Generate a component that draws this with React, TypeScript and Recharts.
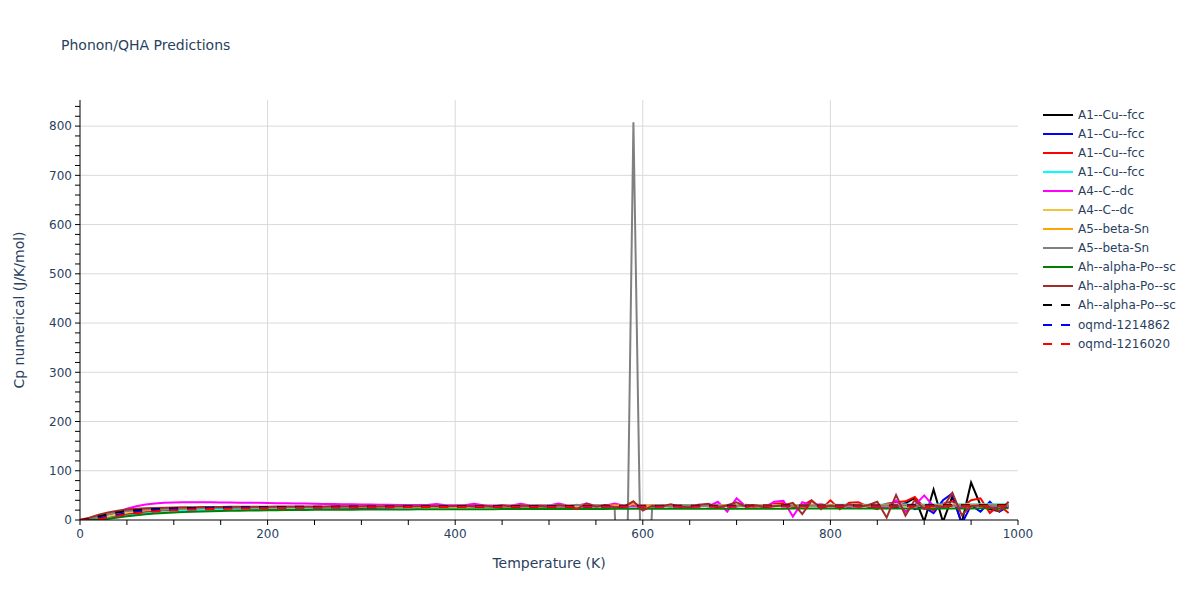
import React from 'react';
import { LineChart, Line, XAxis, YAxis, ReferenceLine } from 'recharts';

// temperatures (K)
const TEMPS = [
  0, 10, 20, 30, 40, 50, 60, 70, 80, 90,
  100, 110, 120, 130, 140, 150, 160, 170, 180, 190,
  200, 210, 220, 230, 240, 250, 260, 270, 280, 290,
  300, 310, 320, 330, 340, 350, 360, 370, 380, 390,
  400, 410, 420, 430, 440, 450, 460, 470, 480, 490,
  500, 510, 520, 530, 540, 550, 560, 570, 580, 590,
  600, 610, 620, 630, 640, 650, 660, 670, 680, 690,
  700, 710, 720, 730, 740, 750, 760, 770, 780, 790,
  800, 810, 820, 830, 840, 850, 860, 870, 880, 890,
  900, 910, 920, 930, 940, 950, 960, 970, 980, 990,
];

const CU_FCC_1 = [
  0, 0.2, 1.5, 4.3, 7.8, 10.9, 13.4, 15.3, 16.8, 18.0,
  19.0, 19.8, 20.5, 21.1, 21.6, 22.0, 22.4, 22.7, 23.0, 23.2,
  23.4, 23.6, 23.8, 24.0, 24.2, 24.4, 24.6, 24.8, 25.0, 25.2,
  25.4, 25.6, 25.8, 26.0, 26.2, 26.3, 26.4, 26.5, 26.6, 26.7,
  26.8, 26.9, 27.0, 27.1, 27.2, 27.3, 27.4, 27.5, 27.5, 27.6,
  27.6, 27.7, 27.8, 27.9, 28.0, 28.1, 28.1, 28.2, 28.3, 28.3,
  28.4, 28.5, 28.6, 28.6, 28.8, 29.0, 28.5, 29.2, 28.9, 29.4,
  29.0, 29.6, 28.8, 30.1, 29.3, 28.7, 30.4, 29.1, 30.8, 28.9,
  30.2, 29.4, 31.0, 28.5, 30.6, 27.8, 32.5, 26.4, 34.0, 45.0,
  -3.0, 62.0, -4.0, 48.0, -6.0, 76.0, 30.0, 22.0, 18.0, 31.0,
];

const CU_FCC_2 = [
  0, 0.2, 1.4, 4.1, 7.5, 10.6, 13.1, 15.0, 16.5, 17.7,
  18.7, 19.5, 20.2, 20.8, 21.3, 21.7, 22.1, 22.4, 22.7, 22.9,
  23.1, 23.3, 23.5, 23.7, 23.9, 24.1, 24.3, 24.5, 24.7, 24.9,
  25.1, 25.3, 25.5, 25.7, 25.9, 26.0, 26.1, 26.2, 26.3, 26.4,
  26.5, 26.6, 26.7, 26.8, 26.9, 27.0, 27.1, 27.2, 27.2, 27.3,
  27.3, 27.4, 27.5, 27.6, 27.7, 27.8, 27.8, 27.9, 28.0, 28.0,
  28.1, 28.2, 28.3, 28.3, 28.4, 28.6, 28.2, 28.8, 28.5, 29.0,
  28.7, 29.2, 28.5, 29.6, 28.9, 28.4, 30.0, 28.8, 30.3, 28.6,
  29.8, 29.1, 30.4, 28.2, 30.0, 27.0, 30.0, 25.0, 33.0, 22.0,
  26.0, 14.0, 40.0, 54.0, -8.0, 30.0, 17.0, 37.0, 17.0, 28.0,
];

const CU_FCC_3 = [
  0, 0.3, 1.7, 4.6, 8.1, 11.2, 13.7, 15.6, 17.1, 18.3,
  19.2, 20.0, 20.7, 21.3, 21.8, 22.2, 22.6, 22.9, 23.2, 23.4,
  23.6, 23.8, 24.0, 24.2, 24.4, 24.6, 24.8, 25.0, 25.2, 25.4,
  25.6, 25.8, 26.0, 26.2, 26.4, 26.5, 26.6, 26.7, 26.8, 26.9,
  27.0, 27.1, 27.2, 27.3, 27.4, 27.5, 27.6, 27.7, 27.7, 27.8,
  27.8, 27.9, 28.0, 28.1, 28.2, 28.3, 28.3, 28.4, 28.5, 28.5,
  28.5, 28.6, 28.7, 28.7, 28.8, 28.9, 28.9, 29.0, 28.0, 30.5,
  27.5, 31.0, 27.0, 29.0, 33.0, 34.0, 26.0, 29.0, 40.0, 22.0,
  40.0, 22.0, 35.0, 36.0, 27.0, 22.0, 33.0, 36.0, 38.0, 47.0,
  25.0, 20.0, 33.0, 38.0, 26.0, 40.0, 44.0, 14.0, 30.0, 14.0,
];

const CU_FCC_4 = [
  0, 0.1, 0.9, 2.9, 5.6, 8.4, 10.9, 13.0, 14.8, 16.3,
  17.5, 18.6, 19.5, 20.3, 21.0, 21.6, 22.1, 22.6, 23.0, 23.4,
  23.7, 24.0, 24.3, 24.6, 24.9, 25.1, 25.4, 25.6, 25.8, 26.0,
  26.2, 26.4, 26.6, 26.8, 27.0, 27.1, 27.3, 27.4, 27.6, 27.7,
  27.8, 27.9, 28.0, 28.1, 28.2, 28.3, 28.4, 28.5, 28.6, 28.7,
  28.8, 28.9, 29.0, 29.0, 29.1, 29.2, 29.3, 29.3, 29.4, 29.5,
  29.5, 29.6, 29.7, 29.7, 29.8, 29.9, 29.9, 30.0, 30.1, 30.1,
  30.2, 30.3, 30.3, 30.4, 30.5, 30.5, 30.6, 30.7, 30.7, 30.8,
  30.9, 30.9, 31.0, 31.1, 31.1, 31.2, 31.3, 31.3, 31.4, 31.5,
  31.5, 31.6, 31.7, 31.7, 31.8, 31.9, 31.9, 32.0, 32.1, 32.1,
];

const C_DC_1 = [
  0, 0.5, 3.5, 9.5, 16.5, 23.0, 28.0, 31.5, 33.5, 34.8,
  35.5, 35.8, 35.9, 35.9, 35.8, 35.6, 35.4, 35.2, 35.0, 34.8,
  34.5, 34.2, 33.9, 33.6, 33.3, 33.0, 32.7, 32.4, 32.1, 31.8,
  31.5, 31.3, 31.1, 30.9, 30.7, 30.5, 30.4, 30.3, 32.5, 30.1,
  30.0, 29.9, 33.0, 29.8, 29.7, 29.7, 29.6, 32.8, 29.5, 29.5,
  29.4, 33.5, 29.3, 29.3, 33.0, 29.2, 29.1, 33.5, 29.0, 29.0,
  28.9, 29.5, 28.0, 30.5, 28.5, 29.0, 31.0, 27.5, 37.0, 17.0,
  44.0, 27.0, 30.0, 25.0, 37.0, 39.0, 7.0, 36.0, 30.0, 32.0,
  28.0, 30.0, 26.0, 31.0, 29.0, 27.0, 24.0, 40.0, 17.0, 30.0,
  50.0, 28.0, 25.0, 30.0, 26.0, 28.0, 30.0, 27.0, 29.0, 28.0,
];

const C_DC_2 = [
  0, 0.6, 3.2, 7.5, 11.8, 15.2, 17.8, 19.6, 20.9, 21.9,
  22.6, 23.2, 23.6, 24.0, 24.3, 24.5, 24.7, 24.9, 25.1, 25.2,
  25.3, 25.4, 25.5, 25.6, 25.7, 25.8, 25.9, 26.0, 26.1, 26.2,
  26.3, 26.4, 26.5, 26.5, 26.6, 26.7, 26.8, 26.8, 26.9, 27.0,
  27.0, 27.1, 27.2, 27.2, 27.3, 27.4, 27.4, 27.5, 27.5, 27.6,
  27.7, 27.7, 27.8, 27.8, 27.9, 28.0, 28.0, 28.1, 28.1, 33.0,
  28.2, 28.3, 28.3, 28.4, 28.4, 28.5, 28.5, 28.6, 28.6, 28.7,
  28.7, 28.8, 28.8, 28.9, 28.9, 29.0, 29.0, 29.1, 29.1, 29.2,
  29.2, 29.3, 29.3, 29.4, 29.4, 29.5, 29.5, 29.6, 29.6, 29.7,
  29.7, 29.8, 29.8, 29.9, 29.9, 30.0, 30.0, 30.1, 30.1, 30.2,
];

const BETA_SN_1 = [
  0, 1.8, 7.0, 12.5, 16.5, 19.0, 20.6, 21.7, 22.5, 23.0,
  23.4, 23.7, 24.0, 24.2, 24.4, 24.6, 24.8, 25.0, 25.2, 25.4,
  25.6, 25.8, 26.0, 26.2, 26.4, 26.6, 26.8, 27.0, 27.2, 27.4,
  27.5, 27.6, 27.7, 27.8, 27.9, 28.0, 28.0, 28.1, 28.2, 28.2,
  28.3, 28.4, 28.4, 28.5, 28.6, 28.6, 28.7, 28.8, 28.8, 28.9,
  29.0, 29.1, 29.2, 29.3, 29.3, 29.4, 29.4, 29.5, 29.5, 33.0,
  29.6, 29.6, 29.7, 29.7, 29.8, 29.8, 29.8, 29.9, 29.9, 29.9,
  30.0, 30.0, 30.0, 30.1, 30.1, 30.1, 30.2, 30.2, 30.2, 30.3,
  30.3, 30.3, 30.4, 30.4, 30.4, 30.5, 30.5, 30.5, 30.6, 30.6,
  30.6, 30.7, 30.7, 30.7, 30.8, 30.8, 30.8, 30.9, 30.9, 30.9,
];

const BETA_SN_2 = [
  0, 1.5, 6.2, 11.5, 15.6, 18.3, 20.0, 21.2, 22.0, 22.6,
  23.0, 23.4, 23.7, 24.0, 24.2, 24.4, 24.6, 24.8, 25.0, 25.2,
  25.4, 25.6, 25.8, 26.0, 26.2, 26.4, 26.6, 26.8, 27.0, 27.1,
  27.2, 27.3, 27.4, 27.5, 27.6, 27.7, 27.8, 27.9, 28.0, 28.1,
  28.2, 28.3, 28.4, 28.5, 28.6, 28.7, 28.8, 28.9, 29.0, 29.1,
  29.2, 30.5, 28.0, 31.0, 27.5, 30.0, 28.0, 25.0, -540.0, 808.0,
  -346.0, 25.0, 29.0, 27.0, 30.0, 29.5, 28.5, 29.0, 28.8, 28.6,
  28.7, 28.8, 28.8, 28.9, 28.9, 29.0, 29.0, 29.1, 29.1, 29.2,
  29.2, 29.2, 29.3, 29.3, 29.3, 29.4, 29.4, 29.4, 29.5, 29.5,
  29.5, 29.6, 29.6, 29.6, 29.7, 29.7, 29.7, 29.8, 29.8, 29.8,
];

const PO_SC_1 = [
  0, 0.1, 0.8, 2.6, 5.0, 7.5, 9.7, 11.5, 13.0, 14.2,
  15.2, 16.0, 16.7, 17.3, 17.8, 18.2, 18.6, 18.9, 19.2, 19.5,
  19.7, 19.9, 20.1, 20.3, 20.4, 20.6, 20.7, 20.8, 20.9, 21.0,
  21.1, 21.2, 21.3, 21.4, 21.5, 21.5, 21.6, 21.7, 21.7, 21.8,
  21.8, 21.9, 21.9, 22.0, 22.0, 22.1, 22.1, 22.2, 22.2, 22.3,
  22.3, 22.3, 22.4, 22.4, 22.5, 22.5, 22.5, 22.6, 22.6, 22.6,
  22.7, 22.7, 22.7, 22.8, 22.8, 22.8, 22.9, 22.9, 22.9, 23.0,
  23.0, 23.0, 23.0, 23.1, 23.1, 23.1, 23.2, 23.2, 23.2, 23.2,
  23.3, 23.3, 23.3, 23.3, 23.4, 23.4, 23.4, 23.4, 23.5, 23.5,
  23.5, 23.5, 23.6, 23.6, 23.6, 23.6, 23.7, 23.7, 23.7, 23.7,
];

const PO_SC_2 = [
  0, 4.5, 10.5, 15.5, 19.0, 21.3, 22.8, 23.8, 24.5, 25.0,
  25.4, 25.7, 26.0, 26.2, 26.4, 26.6, 26.7, 26.8, 26.9, 27.0,
  27.1, 27.2, 27.3, 27.4, 27.5, 27.5, 27.6, 27.7, 27.8, 27.8,
  27.9, 28.2, 27.6, 28.4, 27.8, 28.6, 28.0, 28.8, 28.1, 28.5,
  28.2, 29.0, 28.0, 29.5, 27.6, 29.8, 27.8, 29.6, 28.4, 29.0,
  27.5, 30.0, 28.5, 22.0, 34.0, 27.0, 30.5, 26.0, 27.0, 38.0,
  19.0, 29.0, 28.0, 32.0, 27.0, 26.0, 31.0, 33.0, 25.0, 30.0,
  36.0, 27.0, 30.0, 26.0, 28.0, 30.0, 35.0, 12.0, 39.0, 25.0,
  29.0, 26.0, 32.0, 27.0, 30.0, 37.0, 5.0, 51.0, 9.0, 41.0,
  22.0, 30.0, 26.0, 55.0, 10.0, 28.0, 30.0, 26.0, 18.0, 37.0,
];

const PO_SC_3 = [
  0, 2.0, 7.0, 11.8, 15.4, 18.0, 19.8, 21.1, 22.1, 22.9,
  23.5, 24.0, 24.4, 24.8, 25.1, 25.4, 25.6, 25.8, 26.0, 26.2,
  26.4, 26.5, 26.6, 26.7, 26.8, 26.9, 27.0, 27.1, 27.2, 27.3,
  27.4, 27.5, 27.5, 27.6, 27.7, 27.7, 27.8, 27.8, 27.9, 27.9,
  28.0, 28.0, 28.1, 28.1, 28.2, 28.2, 28.3, 28.3, 28.4, 28.4,
  28.5, 28.5, 28.5, 28.6, 28.6, 28.6, 28.7, 28.7, 28.7, 28.8,
  28.8, 28.8, 28.9, 28.9, 28.9, 29.0, 29.0, 29.0, 29.1, 29.1,
  29.1, 29.2, 29.2, 29.2, 29.3, 29.3, 29.3, 29.4, 29.4, 29.4,
  29.5, 29.5, 29.5, 29.6, 29.6, 29.6, 29.7, 29.7, 29.7, 29.8,
  29.8, 29.8, 29.9, 29.9, 29.9, 30.0, 30.0, 30.0, 30.1, 30.1,
];

const OQMD_1214862 = [
  0, 0.5, 3.0, 7.0, 10.8, 14.0, 16.4, 18.2, 19.6, 20.7,
  21.5, 22.2, 22.8, 23.3, 23.7, 24.0, 24.3, 24.5, 24.7, 24.9,
  25.0, 25.1, 25.2, 25.3, 25.4, 25.5, 25.6, 25.7, 25.8, 25.9,
  26.0, 26.0, 26.1, 26.1, 26.2, 26.2, 26.3, 26.3, 26.4, 26.4,
  26.5, 26.5, 26.6, 26.6, 26.7, 26.7, 26.8, 26.8, 26.9, 26.9,
  27.0, 27.0, 27.0, 27.1, 27.1, 27.1, 27.2, 27.2, 27.2, 27.3,
  27.3, 27.3, 27.4, 27.4, 27.4, 27.5, 27.5, 27.5, 27.6, 27.6,
  27.6, 27.7, 27.7, 27.7, 27.8, 27.8, 27.8, 27.9, 27.9, 27.9,
  28.0, 28.0, 28.0, 28.1, 28.1, 28.1, 28.2, 28.2, 28.2, 28.3,
  28.3, 28.3, 28.4, 28.4, 28.4, 28.5, 28.5, 28.5, 28.6, 28.6,
];

const OQMD_1216020 = [
  0, 0.3, 1.8, 4.8, 8.2, 11.3, 13.8, 15.8, 17.4, 18.6,
  19.6, 20.4, 21.1, 21.7, 22.2, 22.6, 23.0, 23.3, 23.6, 23.9,
  24.1, 24.3, 24.5, 24.7, 24.9, 25.0, 25.2, 25.3, 25.5, 25.6,
  25.7, 25.8, 25.9, 26.0, 26.1, 26.2, 26.3, 26.4, 26.4, 26.5,
  26.6, 26.6, 26.7, 26.7, 26.8, 26.8, 26.9, 26.9, 27.0, 27.0,
  27.0, 27.1, 27.1, 27.1, 27.2, 27.2, 27.2, 27.3, 27.3, 27.3,
  27.4, 27.4, 27.4, 27.4, 27.5, 27.5, 27.5, 27.5, 27.6, 27.6,
  27.6, 27.6, 27.7, 27.7, 27.7, 27.7, 27.8, 27.8, 27.8, 27.8,
  27.9, 27.9, 27.9, 27.9, 28.0, 28.0, 28.0, 28.0, 28.1, 28.1,
  28.1, 28.1, 28.2, 28.2, 28.2, 28.2, 28.3, 28.3, 28.3, 28.3,
];

const X_TICKS = [0, 50, 100, 150, 200, 250, 300, 350, 400, 450, 500, 550, 600, 650, 700, 750, 800, 850, 900, 950, 1000];
const X_GRID = [200, 400, 600, 800];
const Y_TICKS = [0, 20, 40, 60, 80, 100, 120, 140, 160, 180, 200, 220, 240, 260, 280, 300, 320, 340, 360, 380, 400,
  420, 440, 460, 480, 500, 520, 540, 560, 580, 600, 620, 640, 660, 680, 700, 720, 740, 760, 780, 800, 820, 840];
const Y_GRID = [100, 200, 300, 400, 500, 600, 700, 800];
const Y_MAX = 853;

const SERIES = [
  { key: 'cu1', name: 'A1--Cu--fcc', color: '#000000', values: CU_FCC_1 },
  { key: 'cu2', name: 'A1--Cu--fcc', color: '#0000ff', values: CU_FCC_2 },
  { key: 'cu3', name: 'A1--Cu--fcc', color: '#ff0000', values: CU_FCC_3 },
  { key: 'cu4', name: 'A1--Cu--fcc', color: '#00ffff', values: CU_FCC_4 },
  { key: 'c1', name: 'A4--C--dc', color: '#ff00ff', values: C_DC_1 },
  { key: 'c2', name: 'A4--C--dc', color: '#f0c43c', values: C_DC_2 },
  { key: 'sn1', name: 'A5--beta-Sn', color: '#ffa500', values: BETA_SN_1 },
  { key: 'sn2', name: 'A5--beta-Sn', color: '#808080', values: BETA_SN_2 },
  { key: 'po1', name: 'Ah--alpha-Po--sc', color: '#008000', values: PO_SC_1 },
  { key: 'po2', name: 'Ah--alpha-Po--sc', color: '#a52a2a', values: PO_SC_2 },
  { key: 'po3', name: 'Ah--alpha-Po--sc', color: '#000000', values: PO_SC_3, dash: true },
  { key: 'oq1', name: 'oqmd-1214862', color: '#0000ff', values: OQMD_1214862, dash: true },
  { key: 'oq2', name: 'oqmd-1216020', color: '#ff0000', values: OQMD_1216020, dash: true },
];

const rows = TEMPS.map((t, i) => {
  const row: Record<string, number> = { t };
  SERIES.forEach((s) => {
    row[s.key] = s.values[i];
  });
  return row;
});

const FONT = 'Verdana, "DejaVu Sans", sans-serif';
const TEXT = '#2a3f5f';
const GRID = '#d9d9d9';

export default function App() {
  return (
    <div style={{ position: 'absolute', left: 0, top: 0, width: 1200, height: 600, background: '#fff', fontFamily: FONT }}>
      <div style={{ position: 'absolute', left: 61, top: 37, fontSize: 14, color: TEXT }}>Phonon/QHA Predictions</div>
      <LineChart width={1200} height={600} data={rows} margin={{ top: 100, right: 182, bottom: 0, left: 0 }}>
        <XAxis
          dataKey="t"
          type="number"
          domain={[0, 1000]}
          ticks={X_TICKS}
          interval={0}
          height={80}
          tickSize={5}
          tickMargin={4}
          stroke="#000"
          tickFormatter={(v: number) => (v % 200 === 0 ? String(v) : '')}
          tick={{ fontSize: 12, fill: TEXT, fontFamily: FONT }}
          label={{ value: 'Temperature (K)', position: 'insideBottom', offset: 32, style: { fontSize: 14, fill: TEXT, fontFamily: FONT } }}
        />
        <YAxis
          type="number"
          domain={[0, Y_MAX]}
          ticks={Y_TICKS}
          interval={0}
          width={80}
          tickSize={5}
          tickMargin={3}
          allowDataOverflow
          stroke="#000"
          tickFormatter={(v: number) => (v % 100 === 0 ? String(v) : '')}
          tick={{ fontSize: 12, fill: TEXT, fontFamily: FONT }}
          label={{
            value: 'Cp numerical (J/K/mol)',
            angle: -90,
            position: 'insideLeft',
            offset: 19,
            style: { fontSize: 14, fill: TEXT, fontFamily: FONT, textAnchor: 'middle' },
          }}
        />
        {X_GRID.map((v) => (
          <ReferenceLine key={`gx${v}`} x={v} stroke={GRID} strokeWidth={1} />
        ))}
        {Y_GRID.map((v) => (
          <ReferenceLine key={`gy${v}`} y={v} stroke={GRID} strokeWidth={1} />
        ))}
        {SERIES.map((s) => (
          <Line
            key={s.key}
            dataKey={s.key}
            name={s.name}
            type="linear"
            stroke={s.color}
            strokeWidth={2}
            strokeDasharray={s.dash ? '9 9' : undefined}
            dot={false}
            activeDot={false}
            isAnimationActive={false}
          />
        ))}
      </LineChart>
      <div style={{ position: 'absolute', left: 1043, top: 105 }}>
        {SERIES.map((s) => (
          <div key={s.key} style={{ display: 'flex', alignItems: 'center', height: 19.1 }}>
            <svg width={30} height={4} style={{ display: 'block' }}>
              <line x1={0} y1={2} x2={30} y2={2} stroke={s.color} strokeWidth={2} strokeDasharray={s.dash ? '9 9' : undefined} />
            </svg>
            <span style={{ marginLeft: 5, fontSize: 12, color: TEXT, whiteSpace: 'nowrap' }}>{s.name}</span>
          </div>
        ))}
      </div>
    </div>
  );
}
